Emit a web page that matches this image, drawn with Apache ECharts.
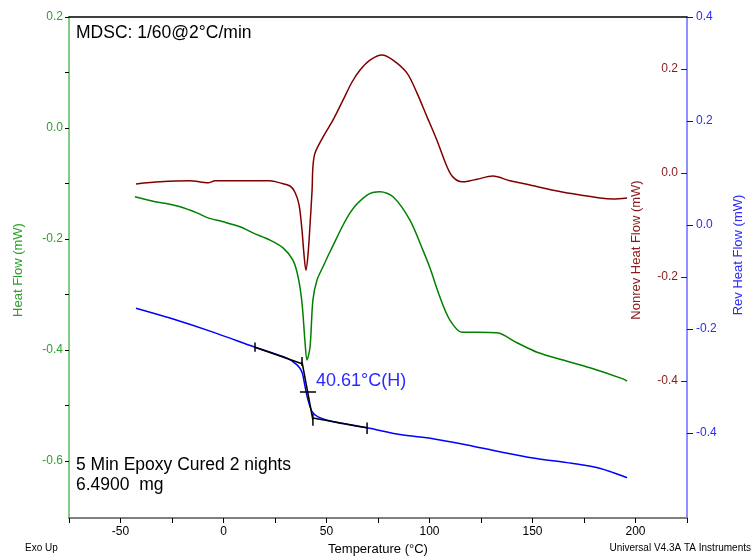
<!DOCTYPE html>
<html><head><meta charset="utf-8">
<script src="https://cdn.jsdelivr.net/npm/echarts@6/dist/echarts.min.js"></script>
<style>html,body{margin:0;padding:0;background:#fff}#c{width:753px;height:557px}</style>
</head><body><div id="c"></div>
<script>
// Heat Flow (green, left axis)
const greenT  = [-43.0,-34.2,-29.4,-21.1,-12.9,-7.5,-0.2,8.0,14.3,22.6,28.9,33.7,36.2,38.1,39.6,40.5,42.0,43.4,45.4,48.3,51.7,61.4,69.7,76.0,82.3,90.5,96.8,100.2,105.1,109.9,115.8,123.1,132.8,142.5,152.2,164.8,177.9,193.9,195.9];
const greenHF = [-0.124,-0.132,-0.135,-0.142,-0.153,-0.162,-0.169,-0.178,-0.189,-0.202,-0.216,-0.238,-0.268,-0.315,-0.387,-0.418,-0.395,-0.310,-0.274,-0.250,-0.223,-0.153,-0.121,-0.115,-0.124,-0.166,-0.220,-0.252,-0.305,-0.346,-0.368,-0.368,-0.369,-0.387,-0.404,-0.418,-0.432,-0.452,-0.456];
// Nonrev Heat Flow (brown, right inner axis)
const nonrevT  = [-42.5,-30.8,-16.3,-7.5,-4.1,8.0,22.6,27.4,32.3,34.7,36.7,38.1,39.1,40.0,41.0,42.0,43.0,43.4,44.4,48.3,53.2,58.0,62.4,66.3,71.1,76.9,82.3,89.1,93.9,98.8,103.6,108.5,111.4,115.8,119.7,123.1,130.8,139.1,148.8,160.0,169.7,182.8,189.1,195.9];
const nonrevHF = [-0.021,-0.017,-0.015,-0.019,-0.015,-0.015,-0.015,-0.019,-0.025,-0.037,-0.062,-0.110,-0.158,-0.187,-0.158,-0.100,-0.033,0.012,0.038,0.069,0.102,0.140,0.175,0.198,0.217,0.227,0.217,0.192,0.154,0.108,0.063,0.012,-0.008,-0.017,-0.015,-0.012,-0.006,-0.015,-0.023,-0.033,-0.040,-0.048,-0.050,-0.048];
// Rev Heat Flow (blue, right outer axis)
const revT  = [-42.5,-26.0,-5.1,15.3,30.8,35.7,38.1,39.6,41.0,43.0,45.9,55.1,69.7,85.7,101.7,118.2,134.2,150.2,166.7,179.4,187.6,195.9];
const revHF = [-0.160,-0.179,-0.206,-0.235,-0.256,-0.269,-0.283,-0.311,-0.336,-0.359,-0.369,-0.380,-0.390,-0.403,-0.411,-0.423,-0.436,-0.448,-0.457,-0.465,-0.474,-0.486];
// Glass transition construction lines (on Rev axis): [T1, R1, T2, R2]
const tgSegments = [
  [15.3,-0.235, 38.1,-0.267],
  [38.1,-0.263, 43.4,-0.375],
  [43.4,-0.371, 69.7,-0.390],
  [15.3,-0.226, 15.3,-0.244],
  [38.1,-0.254, 38.1,-0.271],
  [43.4,-0.363, 43.4,-0.386],
  [69.7,-0.380, 69.7,-0.402],
  [37.1,-0.321, 44.9,-0.321]
];
// Tick values
const xTicks = [-75,-50,-25,0,25,50,75,100,125,150,175,200,225];
const xLabels = [-50,0,50,100,150,200];
const hfTicks = [-0.6,-0.5,-0.4,-0.3,-0.2,-0.1,0,0.1,0.2];
const hfLabels = [-0.6,-0.4,-0.2,0,0.2];
const nonrevLabels = [-0.4,-0.2,0,0.2];
const revLabels = [-0.4,-0.2,0,0.2,0.4];

const GREEN='#008000', BROWN='#800000', BLUE='#0000ff';
const FONT='"Liberation Sans", Arial, sans-serif';
const zip=(a,b)=>a.map((v,i)=>[v,b[i]]);

const chart = echarts.init(document.getElementById('c'), null, {renderer:'canvas'});
const series = [
  {type:'line', data:zip(greenT,greenHF), yAxisIndex:0, showSymbol:false, smooth:0.3, lineStyle:{color:GREEN,width:1.5}, z:3},
  {type:'line', data:zip(nonrevT,nonrevHF), yAxisIndex:1, showSymbol:false, smooth:0.3, lineStyle:{color:BROWN,width:1.5}, z:3},
  {type:'line', data:zip(revT,revHF), yAxisIndex:2, showSymbol:false, smooth:0.3, lineStyle:{color:BLUE,width:1.5}, z:3}
];
tgSegments.forEach(s=>series.push({type:'line', yAxisIndex:2, data:[[s[0],s[1]],[s[2],s[3]]], showSymbol:false, lineStyle:{color:'#000',width:1.5}, z:4, silent:true}));

const txt=(x,y,text,fill,size,align,rot)=>({type:'text', x:x, y:y, rotation:rot||0, style:{text:text, x:0, y:0, fill:fill, font:size+'px '+FONT, align:align, verticalAlign:'middle', textAlign:align, textVerticalAlign:'middle'}});

chart.setOption({
  animation:false,
  backgroundColor:'#fff',
  grid:{left:69, right:66, top:17, bottom:39},
  xAxis:[{
    type:'value', min:-75, max:225, position:'bottom',
    axisLine:{onZero:false, lineStyle:{color:'#808080', width:2}},
    axisTick:{customValues:xTicks, length:5, lineStyle:{color:'#000'}},
    axisLabel:{customValues:xLabels, color:'#000', fontFamily:FONT, fontSize:12, margin:8},
    splitLine:{show:false}
  },{
    type:'value', min:-75, max:225, position:'top',
    axisLine:{show:true, onZero:false, lineStyle:{color:'#000', width:1.5}},
    axisTick:{show:false}, axisLabel:{show:false}, splitLine:{show:false}
  }],
  yAxis:[{
    type:'value', min:-0.7027, max:0.2, position:'left',
    axisLine:{show:true, onZero:false, lineStyle:{color:'#5cb85c', width:1.5}},
    axisTick:{show:true, customValues:hfTicks, length:4, lineStyle:{color:'#000'}},
    axisLabel:{customValues:hfLabels, color:'#2ca02c', fontFamily:FONT, fontSize:12, margin:6, formatter:v=>v.toFixed(1)},
    splitLine:{show:false}
  },{
    type:'value', min:-0.6635, max:0.3, position:'right',
    axisLine:{show:false, onZero:false},
    axisTick:{show:true, inside:true, customValues:nonrevLabels, length:6, lineStyle:{color:BROWN}},
    axisLabel:{inside:true, customValues:nonrevLabels, color:'#8b1a1a', fontFamily:FONT, fontSize:12, margin:9, formatter:v=>v.toFixed(1)},
    splitLine:{show:false}
  },{
    type:'value', min:-0.5635, max:0.4, position:'right',
    axisLine:{show:true, onZero:false, lineStyle:{color:'#6a6aff', width:1.5}},
    axisTick:{show:true, customValues:revLabels, length:6, lineStyle:{color:BLUE}},
    axisLabel:{customValues:revLabels, color:'#2a2aff', fontFamily:FONT, fontSize:12, margin:9, formatter:v=>v.toFixed(1)},
    splitLine:{show:false}
  }],
  series:series,
  graphic:[
    txt(18,270,'Heat Flow (mW)','#2ca02c',13,'center',Math.PI/2),
    txt(636,250,'Nonrev Heat Flow (mW)','#8b1a1a',13,'center',Math.PI/2),
    txt(738,255,'Rev Heat Flow (mW)','#2a2aff',13,'center',Math.PI/2),
    txt(378,549,'Temperature (°C)','#000',13,'center'),
    txt(25,548,'Exo Up','#000',10,'left'),
    txt(751,548,'Universal V4.3A TA Instruments','#000',10,'right'),
    txt(76,33,'MDSC: 1/60@2°C/min','#000',17.5,'left'),
    txt(76,465,'5 Min Epoxy Cured 2 nights','#000',17.5,'left'),
    txt(76,485,'6.4900  mg','#000',17.5,'left'),
    txt(316,381,'40.61°C(H)','#2a2aff',18,'left')
  ]
});
</script></body></html>
